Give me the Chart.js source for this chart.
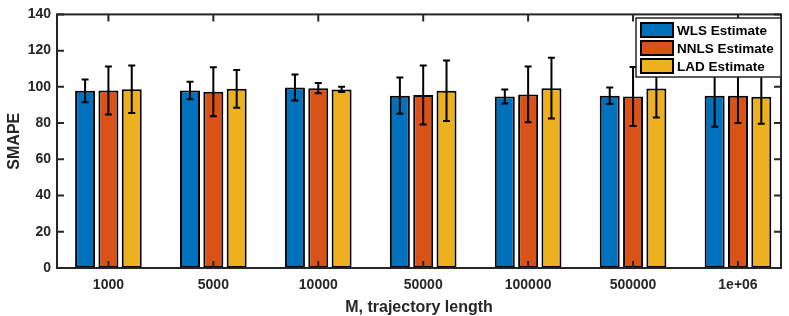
<!DOCTYPE html>
<html>
<head>
<meta charset="utf-8">
<script src="https://cdn.jsdelivr.net/npm/chart.js@4"></script>
<style>
  html, body { margin: 0; padding: 0; background: #fff; }
  #wrap { width: 789px; height: 316px; }
</style>
</head>
<body>
<div id="wrap"><canvas id="barChart"></canvas></div>
<script>
const categories = ["1000", "5000", "10000", "50000", "100000", "500000", "1e+06"];
const seriesNames = ["WLS Estimate", "NNLS Estimate", "LAD Estimate"];
const wlsMean = [97.8, 98.0, 99.6, 95.1, 94.7, 95.1, 95.1];
const wlsErr = [6.3, 4.8, 7.2, 10.0, 3.9, 4.6, 17.1];
const nnlsMean = [98.0, 97.3, 99.3, 95.5, 95.8, 94.7, 95.1];
const nnlsErr = [13.2, 13.5, 2.8, 16.3, 15.4, 16.3, 15.1];
const ladMean = [98.7, 98.9, 98.6, 97.8, 99.3, 99.1, 94.5];
const ladErr = [13.1, 10.4, 1.5, 16.7, 16.7, 16.0, 14.9];
const yTicks = [0, 20, 40, 60, 80, 100, 120, 140];

const colors = ["#0072BD", "#D95319", "#EDB120"];
const means = [wlsMean, nnlsMean, ladMean];
const errs = [wlsErr, nnlsErr, ladErr];
const axisColor = "#262626";
const FONT = "'Liberation Sans', Arial, sans-serif";

// error bars drawn on top of the bars
const errorBars = {
  id: "errorBars",
  afterDatasetsDraw(chart) {
    const ctx = chart.ctx;
    const y = chart.scales.y;
    ctx.save();
    ctx.strokeStyle = "#000";
    ctx.lineWidth = 2;
    means.forEach((m, d) => {
      chart.getDatasetMeta(d).data.forEach((bar, i) => {
        const top = y.getPixelForValue(m[i] + errs[d][i]);
        const bot = y.getPixelForValue(m[i] - errs[d][i]);
        const x = bar.x, cap = 3.5;
        ctx.beginPath();
        ctx.moveTo(x, top); ctx.lineTo(x, bot);
        ctx.moveTo(x - cap, top); ctx.lineTo(x + cap, top);
        ctx.moveTo(x - cap, bot); ctx.lineTo(x + cap, bot);
        ctx.stroke();
      });
    });
    ctx.restore();
  }
};

// matlab-style box with inward ticks
const boxAxes = {
  id: "boxAxes",
  afterDatasetsDraw(chart) {
    const ctx = chart.ctx;
    const a = chart.chartArea;
    const tl = 7;
    ctx.save();
    ctx.strokeStyle = axisColor;
    ctx.lineWidth = 2;
    ctx.beginPath();
    chart.scales.x.ticks.forEach(t => {
      const px = chart.scales.x.getPixelForValue(t.value);
      ctx.moveTo(px, a.bottom); ctx.lineTo(px, a.bottom - tl);
      ctx.moveTo(px, a.top); ctx.lineTo(px, a.top + tl);
    });
    yTicks.forEach(v => {
      const py = chart.scales.y.getPixelForValue(v);
      ctx.moveTo(a.left, py); ctx.lineTo(a.left + tl, py);
      ctx.moveTo(a.right, py); ctx.lineTo(a.right - tl, py);
    });
    ctx.stroke();
    ctx.strokeRect(a.left, a.top, a.right - a.left, a.bottom - a.top);
    ctx.restore();
  }
};

const boxLegend = {
  id: "boxLegend",
  afterDraw(chart) {
    const ctx = chart.ctx;
    const x0 = 636, y0 = 18, w = 145, h = 59;
    ctx.save();
    ctx.fillStyle = "#fff";
    ctx.fillRect(x0, y0, w, h);
    ctx.strokeStyle = axisColor;
    ctx.lineWidth = 1.5;
    ctx.strokeRect(x0, y0, w, h);
    ctx.font = "bold 13.5px " + FONT;
    ctx.textBaseline = "middle";
    seriesNames.forEach((name, i) => {
      const cy = y0 + 12 + i * 18;
      ctx.fillStyle = colors[i];
      ctx.fillRect(x0 + 5, cy - 7, 32, 14);
      ctx.lineWidth = 2;
      ctx.strokeStyle = "#000";
      ctx.strokeRect(x0 + 5, cy - 7, 32, 14);
      ctx.fillStyle = "#000";
      ctx.fillText(name, x0 + 41, cy + 1);
    });
    ctx.restore();
  }
};

new Chart(document.getElementById("barChart"), {
  type: "bar",
  data: {
    datasets: seriesNames.map((name, d) => ({
      label: name,
      data: means[d].map((v, i) => ({ x: i + 1, y: v })),
      backgroundColor: colors[d],
      borderColor: "#000",
      borderWidth: 2,
      borderSkipped: false,
      categoryPercentage: 0.667,
      barPercentage: 0.857
    }))
  },
  options: {
    responsive: true,
    maintainAspectRatio: false,
    animation: false,
    layout: { padding: { top: 10, right: 8, left: 0, bottom: 0 } },
    plugins: { legend: { display: false }, tooltip: { enabled: false } },
    scales: {
      x: {
        type: "linear",
        offset: false,
        min: 0.51,
        max: 7.41,
        afterBuildTicks: axis => { axis.ticks = categories.map((_, i) => ({ value: i + 1 })); },
        afterFit: s => { s.height = 48; },
        grid: { display: false, drawTicks: false, offset: false },
        border: { display: false },
        ticks: {
          callback: v => categories[v - 1],
          color: axisColor,
          padding: 9,
          maxRotation: 0,
          font: { family: FONT, size: 14, weight: "bold" }
        },
        title: {
          display: true,
          text: "M, trajectory length",
          color: axisColor,
          padding: { top: 2, bottom: -1 },
          font: { family: FONT, size: 16, weight: "bold" }
        }
      },
      y: {
        min: 0,
        max: 140,
        afterBuildTicks: axis => { axis.ticks = yTicks.map(v => ({ value: v })); },
        afterFit: s => { s.width = 57; },
        grid: { display: false, drawTicks: false },
        border: { display: false },
        ticks: {
          color: axisColor,
          padding: 6,
          font: { family: FONT, size: 14, weight: "bold" }
        },
        title: {
          display: true,
          text: "SMAPE",
          color: axisColor,
          padding: { top: 5, bottom: 0 },
          font: { family: FONT, size: 16, weight: "bold" }
        }
      }
    }
  },
  plugins: [errorBars, boxAxes, boxLegend]
});
</script>
</body>
</html>
